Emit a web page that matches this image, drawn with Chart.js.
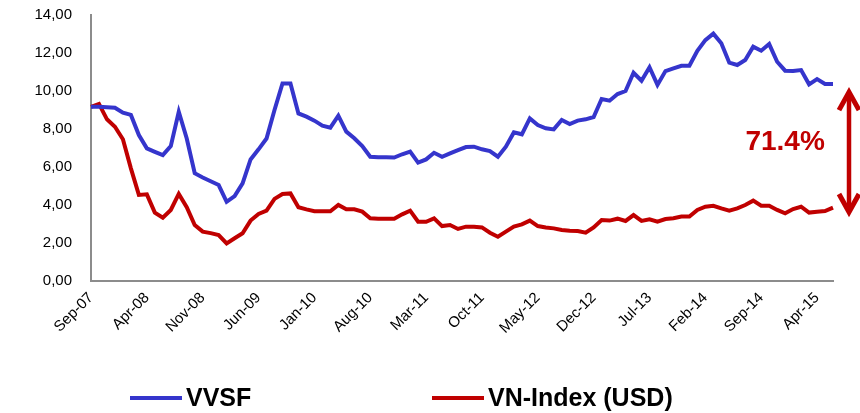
<!DOCTYPE html>
<html><head><meta charset="utf-8">
<script src="https://cdn.jsdelivr.net/npm/chart.js@4/dist/chart.umd.min.js"></script>
<style>html,body{margin:0;padding:0;background:#fff}#wrap{width:860px;height:413px;position:relative}</style>
</head><body><div id="wrap"><canvas id="c" width="860" height="413"></canvas></div>
<script>
const months = [
 'Sep-07','Oct-07','Nov-07','Dec-07',
 'Jan-08','Feb-08','Mar-08','Apr-08','May-08','Jun-08','Jul-08','Aug-08','Sep-08','Oct-08','Nov-08','Dec-08',
 'Jan-09','Feb-09','Mar-09','Apr-09','May-09','Jun-09','Jul-09','Aug-09','Sep-09','Oct-09','Nov-09','Dec-09',
 'Jan-10','Feb-10','Mar-10','Apr-10','May-10','Jun-10','Jul-10','Aug-10','Sep-10','Oct-10','Nov-10','Dec-10',
 'Jan-11','Feb-11','Mar-11','Apr-11','May-11','Jun-11','Jul-11','Aug-11','Sep-11','Oct-11','Nov-11','Dec-11',
 'Jan-12','Feb-12','Mar-12','Apr-12','May-12','Jun-12','Jul-12','Aug-12','Sep-12','Oct-12','Nov-12','Dec-12',
 'Jan-13','Feb-13','Mar-13','Apr-13','May-13','Jun-13','Jul-13','Aug-13','Sep-13','Oct-13','Nov-13','Dec-13',
 'Jan-14','Feb-14','Mar-14','Apr-14','May-14','Jun-14','Jul-14','Aug-14','Sep-14','Oct-14','Nov-14','Dec-14',
 'Jan-15','Feb-15','Mar-15','Apr-15','May-15','Jun-15'
];
const tickLabels = ['Sep-07','Apr-08','Nov-08','Jun-09','Jan-10','Aug-10','Mar-11','Oct-11','May-12','Dec-12','Jul-13','Feb-14','Sep-14','Apr-15'];
const vvsf = [
 9.17,9.17,9.15,9.12,8.86,8.74,7.68,6.98,6.80,6.63,
 7.10,8.91,7.50,5.67,5.45,5.25,5.05,4.17,4.47,5.14,
 6.40,6.93,7.50,9.00,10.40,10.40,8.82,8.65,8.44,8.18,
 8.07,8.70,7.86,7.51,7.10,6.54,6.51,6.51,6.50,6.67,
 6.81,6.23,6.40,6.75,6.54,6.72,6.89,7.05,7.07,6.93,
 6.84,6.54,7.07,7.82,7.72,8.56,8.21,8.04,7.98,8.47,
 8.26,8.44,8.51,8.63,9.58,9.49,9.84,10.00,10.96,10.54,
 11.25,10.32,11.05,11.19,11.33,11.33,12.12,12.68,13.02,12.51,
 11.49,11.37,11.63,12.33,12.12,12.47,11.54,11.07,11.05,11.10,
 10.35,10.63,10.37,10.37
];
const vnIndexUsd = [
 9.17,9.32,8.51,8.12,7.46,5.93,4.53,4.56,3.60,3.33,
 3.74,4.58,3.88,2.95,2.60,2.52,2.42,1.98,2.25,2.51,
 3.18,3.53,3.70,4.32,4.58,4.61,3.88,3.77,3.67,3.67,
 3.67,4.00,3.77,3.77,3.65,3.30,3.28,3.28,3.28,3.51,
 3.70,3.12,3.12,3.30,2.89,2.95,2.74,2.86,2.86,2.82,
 2.54,2.33,2.60,2.86,2.98,3.18,2.89,2.82,2.77,2.68,
 2.65,2.63,2.54,2.82,3.21,3.18,3.28,3.16,3.47,3.16,
 3.25,3.12,3.26,3.30,3.39,3.39,3.74,3.91,3.96,3.82,
 3.70,3.82,4.00,4.23,3.96,3.96,3.74,3.56,3.79,3.91,
 3.60,3.65,3.68,3.86
];
const seriesNames = ['VVSF','VN-Index (USD)'];
const gapText = '71.4%';

const FONT = 'Arial, "Liberation Sans", sans-serif';
const BLUE = '#3535CC';
const RED = '#C00000';

const annotPlugin = {
  id: 'annot',
  afterDatasetsDraw(chart) {
    const {ctx, chartArea, scales: {x, y}} = chart;
    ctx.save();
    ctx.fillStyle = RED;
    ctx.font = 'bold 28px ' + FONT;
    ctx.textAlign = 'center';
    ctx.textBaseline = 'middle';
    ctx.fillText(gapText, x.getPixelForValue(87), y.getPixelForValue(7.3));
    const ax = chartArea.right + 16;
    const top = y.getPixelForValue(10.1);
    const bot = y.getPixelForValue(3.47);
    ctx.strokeStyle = RED;
    ctx.fillStyle = RED;
    ctx.lineWidth = 4.5;
    ctx.beginPath();
    ctx.moveTo(ax, top + 6);
    ctx.lineTo(ax, bot - 6);
    ctx.stroke();
    ctx.lineWidth = 5;
    ctx.lineJoin = 'miter';
    ctx.beginPath();
    ctx.moveTo(ax - 10, top + 21);
    ctx.lineTo(ax, top + 3);
    ctx.lineTo(ax + 10, top + 21);
    ctx.stroke();
    ctx.beginPath();
    ctx.moveTo(ax - 10, bot - 21);
    ctx.lineTo(ax, bot - 3);
    ctx.lineTo(ax + 10, bot - 21);
    ctx.stroke();
    ctx.restore();
  }
};

const legendPlugin = {
  id: 'customLegend',
  afterDraw(chart) {
    const {ctx} = chart;
    const starts = [130, 432];
    const ly = 398;
    ctx.save();
    ctx.font = 'bold 25px ' + FONT;
    ctx.textBaseline = 'middle';
    ctx.textAlign = 'left';
    chart.data.datasets.forEach((ds, i) => {
      const sx = starts[i];
      ctx.strokeStyle = ds.borderColor;
      ctx.lineWidth = 4;
      ctx.beginPath();
      ctx.moveTo(sx, ly);
      ctx.lineTo(sx + 52, ly);
      ctx.stroke();
      ctx.fillStyle = '#000';
      ctx.fillText(ds.label, sx + 56, ly + 1);
    });
    ctx.restore();
  }
};

new Chart(document.getElementById('c'), {
  type: 'line',
  data: {
    labels: months,
    datasets: [
      {label: seriesNames[0], data: vvsf, borderColor: BLUE, backgroundColor: BLUE, borderWidth: 4, pointRadius: 0, tension: 0},
      {label: seriesNames[1], data: vnIndexUsd, borderColor: RED, backgroundColor: RED, borderWidth: 4, pointRadius: 0, tension: 0}
    ]
  },
  options: {
    responsive: false,
    animation: false,
    devicePixelRatio: 1,
    layout: {padding: {left: 0, right: 27, top: 15, bottom: 0}},
    plugins: {legend: {display: false}, tooltip: {enabled: false}},
    scales: {
      x: {
        type: 'category',
        offset: false,
        grid: {display: false, drawTicks: false},
        border: {display: true, color: '#8c8c8c', width: 2},
        ticks: {
          autoSkip: false, maxRotation: 45, minRotation: 45, padding: 8,
          color: '#000', font: {family: FONT, size: 15},
          callback(v) { const l = this.getLabelForValue(v); return tickLabels.includes(l) ? l : ''; }
        },
        afterFit(s) { s.height = 132; s.paddingRight = 0; }
      },
      y: {
        min: 0, max: 14,
        grid: {display: false, drawTicks: false},
        border: {display: true, color: '#8c8c8c', width: 2},
        ticks: {stepSize: 2, padding: 19, color: '#000', font: {family: FONT, size: 15},
          callback: v => v.toFixed(2).replace('.', ',')},
        afterFit(s) { s.width = 91; s.paddingTop = 0; s.paddingBottom = 0; }
      }
    }
  },
  plugins: [annotPlugin, legendPlugin]
});
</script>
</body></html>
